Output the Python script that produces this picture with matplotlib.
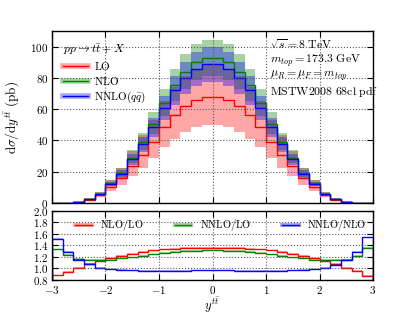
import matplotlib
matplotlib.use("Agg")
import matplotlib.pyplot as plt
from matplotlib.lines import Line2D
from matplotlib.ticker import FuncFormatter, MultipleLocator
import numpy as np

plt.rcParams['mathtext.fontset'] = 'cm'
plt.rcParams['font.family'] = ['DejaVu Serif']

# Data: 30 bins of width 0.2 from -3 to 3
edges = np.linspace(-3.0, 3.0, 31)

lo = [0.02, 0.18, 0.78, 2.2, 5.1, 10.5, 16.0, 23.5, 31.0, 39.0, 48.5, 56.0, 62.0, 66.0, 68.0,
      68.0, 66.0, 62.0, 56.0, 48.5, 39.0, 31.0, 23.5, 16.0, 10.5, 5.1, 2.2, 0.78, 0.18, 0.02]
lo_up = [0.03, 0.25, 1.05, 3.0, 7.2, 14.5, 22.5, 33.0, 43.5, 53.0, 65.0, 74.0, 81.0, 86.0, 88.0,
         88.0, 86.0, 81.0, 74.0, 65.0, 53.0, 43.5, 33.0, 22.5, 14.5, 7.2, 3.0, 1.05, 0.25, 0.03]
lo_dn = [0.015, 0.13, 0.57, 1.6, 3.7, 7.7, 11.8, 17.0, 22.5, 28.5, 35.5, 41.0, 45.5, 48.5, 50.0,
         50.0, 48.5, 45.5, 41.0, 35.5, 28.5, 22.5, 17.0, 11.8, 7.7, 3.7, 1.6, 0.57, 0.13, 0.015]

nlo = [0.02, 0.17, 0.8, 2.4, 6.0, 12.6, 19.3, 29.0, 38.8, 50.5, 64.0, 75.5, 84.0, 90.0, 92.5,
       92.5, 90.0, 84.0, 75.5, 64.0, 50.5, 38.8, 29.0, 19.3, 12.6, 6.0, 2.4, 0.8, 0.17, 0.02]
nlo_up = [0.025, 0.2, 0.95, 2.9, 7.0, 14.7, 22.5, 34.0, 45.0, 58.0, 73.0, 85.5, 95.0, 101.5, 104.5,
          104.5, 101.5, 95.0, 85.5, 73.0, 58.0, 45.0, 34.0, 22.5, 14.7, 7.0, 2.9, 0.95, 0.2, 0.025]
nlo_dn = [0.017, 0.15, 0.7, 2.1, 5.2, 11.0, 16.8, 25.3, 33.8, 44.0, 55.5, 65.5, 73.0, 78.5, 81.0,
          81.0, 78.5, 73.0, 65.5, 55.5, 44.0, 33.8, 25.3, 16.8, 11.0, 5.2, 2.1, 0.7, 0.15, 0.017]

nnlo = [0.03, 0.2, 0.8, 2.4, 5.8, 12.2, 18.5, 28.0, 37.5, 48.5, 61.0, 72.0, 80.0, 86.0, 89.0,
        89.0, 86.0, 80.0, 72.0, 61.0, 48.5, 37.5, 28.0, 18.5, 12.2, 5.8, 2.4, 0.8, 0.2, 0.03]
nnlo_up = [0.033, 0.22, 0.9, 2.7, 6.5, 13.7, 20.8, 31.5, 42.0, 54.5, 68.5, 81.0, 90.0, 96.5, 100.0,
           100.0, 96.5, 90.0, 81.0, 68.5, 54.5, 42.0, 31.5, 20.8, 13.7, 6.5, 2.7, 0.9, 0.22, 0.033]
nnlo_dn = [0.026, 0.17, 0.7, 2.1, 5.0, 10.6, 16.0, 24.3, 32.5, 42.0, 53.0, 62.5, 69.5, 75.0, 77.5,
           77.5, 75.0, 69.5, 62.5, 53.0, 42.0, 32.5, 24.3, 16.0, 10.6, 5.0, 2.1, 0.7, 0.17, 0.026]

# Ratios
r_nlo_lo = [0.876, 0.935, 1.0, 1.07, 1.13, 1.17, 1.22, 1.25, 1.28, 1.31, 1.33, 1.34, 1.35, 1.355, 1.36,
            1.36, 1.355, 1.35, 1.34, 1.33, 1.31, 1.28, 1.25, 1.22, 1.17, 1.13, 1.07, 1.0, 0.95, 0.865]
r_nnlo_lo = [1.33, 1.23, 1.16, 1.14, 1.14, 1.15, 1.17, 1.19, 1.21, 1.24, 1.27, 1.29, 1.30, 1.305, 1.31,
             1.31, 1.305, 1.30, 1.29, 1.27, 1.24, 1.21, 1.19, 1.17, 1.15, 1.14, 1.14, 1.15, 1.22, 1.35]
r_nnlo_nlo = [1.51, 1.29, 1.15, 1.07, 1.01, 0.98, 0.965, 0.96, 0.958, 0.955, 0.955, 0.955, 0.955, 0.96, 0.962,
              0.962, 0.96, 0.955, 0.955, 0.955, 0.955, 0.958, 0.96, 0.965, 0.98, 1.0, 1.06, 1.15, 1.28, 1.54]

info_lines = [r'$\sqrt{s}=8\ \mathrm{TeV}$',
              r'$m_{top}=173.3\ \mathrm{GeV}$',
              r'$\mu_R=\mu_F=m_{top}$',
              r'$\mathrm{MSTW2008\ 68cl\ pdf}$']

RED = '#ff0000'
GREEN = '#008000'
BLUE = '#0000ff'
ALPHA = 0.35


def style_axes(ax):
    ax.tick_params(direction='in', top=True, right=True, length=4, labelsize=8, pad=2.5)
    ax.grid(True, linestyle=':', color='0.35', linewidth=0.8)
    for s in ax.spines.values():
        s.set_linewidth(1.0)


fig = plt.figure(figsize=(4.15, 3.12), dpi=100)
ax = fig.add_axes([0.1253, 0.3494, 0.7735, 0.5513])
axr = fig.add_axes([0.1253, 0.1040, 0.7735, 0.2197])

# main panel
ax.stairs(lo_up, edges, baseline=lo_dn, fill=True, color=RED, alpha=ALPHA, lw=0)
ax.stairs(nlo_up, edges, baseline=nlo_dn, fill=True, color=GREEN, alpha=ALPHA, lw=0)
ax.stairs(nnlo_up, edges, baseline=nnlo_dn, fill=True, color=BLUE, alpha=ALPHA, lw=0)
ax.stairs(lo, edges, color=RED, lw=1.0)
ax.stairs(nlo, edges, color=GREEN, lw=1.0)
ax.stairs(nnlo, edges, color=BLUE, lw=1.0)

ax.set_xlim(-3, 3)
ax.set_ylim(0, 110)
ax.xaxis.set_major_locator(MultipleLocator(1))
ax.yaxis.set_major_locator(MultipleLocator(20))
ax.xaxis.set_major_formatter(FuncFormatter(lambda v, p: ''))
ax.yaxis.set_major_formatter(FuncFormatter(lambda v, p: r'$%d$' % v))
style_axes(ax)
ax.set_ylabel(r'$\mathrm{d}\sigma/\mathrm{d}y^{t\bar{t}}\ (\mathrm{pb})$', fontsize=9.5, labelpad=6)

handles = []
for c in (RED, GREEN, BLUE):
    handles.append((Line2D([], [], color=c, lw=4, alpha=ALPHA), Line2D([], [], color=c, lw=1.0)))
leg = ax.legend(handles, [r'$\mathrm{LO}$', r'$\mathrm{NLO}$', r'$\mathrm{NNLO}(q\bar{q})$'],
                title=r'$pp\to t\bar{t}+X$', loc='upper left', frameon=False, fontsize=8,
                title_fontsize=8.5, handlelength=2.2, borderaxespad=0.6, labelspacing=0.25,
                handletextpad=0.6)
leg._legend_box.align = 'left'

ys = [0.918, 0.828, 0.738, 0.648]
for t, y in zip(info_lines, ys):
    ax.text(0.679, y, t, transform=ax.transAxes, fontsize=8.5, va='center', ha='left')

# ratio panel
for r, c in ((r_nlo_lo, RED), (r_nnlo_lo, GREEN), (r_nnlo_nlo, BLUE)):
    r = np.array(r)
    axr.stairs(r + 0.012, edges, baseline=r - 0.012, fill=True, color=c, alpha=0.3, lw=0)
    axr.stairs(r, edges, color=c, lw=1.0)

axr.set_xlim(-3, 3)
axr.set_ylim(0.8, 2.0)
axr.xaxis.set_major_locator(MultipleLocator(1))
axr.yaxis.set_major_locator(MultipleLocator(0.2))
axr.xaxis.set_major_formatter(FuncFormatter(lambda v, p: r'$%d$' % round(v)))
axr.yaxis.set_major_formatter(FuncFormatter(lambda v, p: r'$%.1f$' % v))
style_axes(axr)
axr.tick_params(axis='x', pad=3)
axr.set_xlabel(r'$y^{t\bar{t}}$', fontsize=9, labelpad=0)

rhandles = []
for c in (RED, GREEN, BLUE):
    rhandles.append((Line2D([], [], color=c, lw=3, alpha=0.35), Line2D([], [], color=c, lw=1.0)))
axr.legend(rhandles, [r'$\mathrm{NLO/LO}$', r'$\mathrm{NNLO/LO}$', r'$\mathrm{NNLO/NLO}$'],
           loc='upper right', ncol=3, frameon=False, fontsize=7.5, handlelength=1.6,
           columnspacing=3.0, borderaxespad=0.2, handletextpad=0.8)

fig.savefig('out.png', dpi=100)
